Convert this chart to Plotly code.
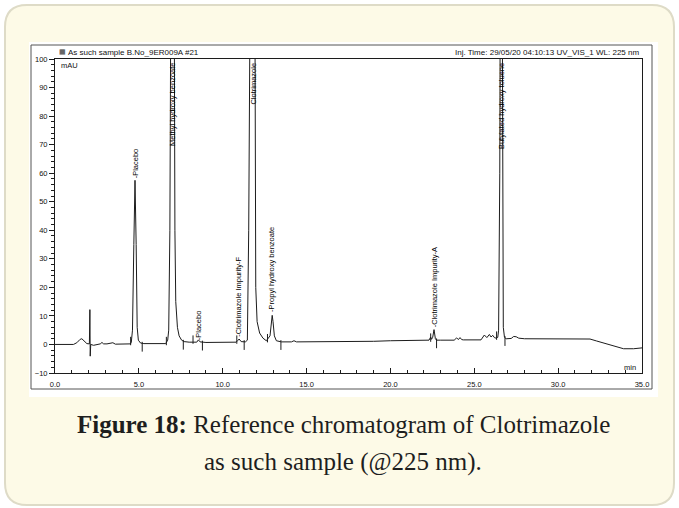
import plotly.graph_objects as go

# ---------------- data ----------------
time_min = [0.0, 1.1, 1.3, 1.5, 1.6, 1.75, 1.9, 2.05, 2.08, 2.10, 2.13, 2.3, 2.5, 2.7, 2.8, 2.9,
            3.1, 3.3, 3.45, 3.6, 4.0, 4.5, 4.55, 4.62, 4.7, 4.77, 4.84, 4.9, 4.97, 5.1, 5.3,
            6.6, 6.72, 6.78, 6.85, 6.89, 7.0, 7.12, 7.15, 7.2, 7.3, 7.4, 7.55, 7.7, 8.0,
            8.45, 8.55, 8.65, 9.0, 10.8, 10.9, 10.98, 11.1, 11.35, 11.47, 11.55, 11.61, 11.75,
            11.93, 11.97, 12.05, 12.2, 12.4, 12.6, 12.82, 12.9, 12.95, 13.0, 13.08, 13.2, 13.5,
            14.1, 14.25, 14.4, 15.0, 17.0, 19.0, 20.0, 21.0, 22.0, 22.3, 22.4, 22.45, 22.52,
            22.6, 22.68, 22.75, 23.0, 23.8, 23.95, 24.05, 24.15, 24.25, 24.35, 25.0, 25.4, 25.6,
            25.75, 25.9, 26.0, 26.1, 26.2, 26.3, 26.4, 26.45, 26.52, 26.6, 26.68, 26.73, 26.8,
            26.9, 27.2, 27.35, 27.5, 27.65, 28.0, 31.9, 32.3, 32.9, 33.4, 33.9, 34.5, 35.0]
signal_mau = [0.0, 0.0, 0.6, 1.8, 2.0, 1.2, 0.3, 0.2, 12.2, -4.1, 0.0, -0.3, 0.0, 0.2, 0.7, 0.2,
              0.2, 0.5, 0.6, 0.1, 0.1, 0.2, 0.8, 5.0, 35.0, 57.5, 35.0, 6.0, 1.5, 0.5, 0.3,
              0.3, 1.5, 5.0, 40.0, 100.0, 170.0, 100.0, 40.0, 15.0, 6.0, 3.0, 1.5, 1.0, 0.8,
              0.8, 1.6, 0.9, 0.7, 0.8, 1.4, 1.9, 1.0, 0.9, 1.5, 40.0, 100.0, 250.0,
              100.0, 20.0, 8.0, 4.0, 2.2, 1.3, 3.0, 9.0, 10.2, 8.0, 3.0, 1.3, 0.9,
              0.9, 1.3, 0.9, 0.9, 1.0, 1.1, 1.3, 1.4, 1.4, 1.5, 2.6, 1.8, 2.5,
              5.2, 2.0, 1.5, 1.5, 1.5, 2.3, 1.7, 2.4, 1.7, 1.6, 1.6, 1.6, 3.3,
              2.4, 3.5, 2.6, 3.2, 2.4, 2.2, 2.5, 5.0, 60.0, 250.0, 60.0, 6.0, 2.5,
              2.0, 2.1, 2.8, 2.7, 2.2, 2.0, 1.9, 1.2, 0.2, -0.9, -1.5, -1.5, -1.2]

# integration delimiters (peak start / peak end)
start_times = [4.51, 6.64, 8.23, 10.84, 12.67, 22.40, 26.33]
start_levels = [0.3, 0.3, 0.8, 0.8, 1.3, 1.5, 2.2]
end_times = [5.20, 7.65, 8.79, 11.28, 13.47, 22.75, 26.83]
end_levels = [0.3, 1.0, 0.7, 0.9, 0.9, 1.5, 2.3]

# peak labels: name, retention time, apex (None = off scale, label hangs from top)
peak_names = ["Placebo", "Methyl hydroxy benzoate", "Placebo", "Clotrimazole Impurity-F",
              "Clotrimazole", "Propyl hydroxy benzoate", "Clotrimazole Impurity-A",
              "Butylated hydroxy toluene"]
peak_times = [4.77, 7.0, 8.55, 10.9, 11.78, 12.95, 22.6, 26.6]
peak_apex = [57.5, None, 0.9, 1.9, None, 10.6, 5.3, None]

x_ticks = [0, 5, 10, 15, 20, 25, 30, 35]
x_ticklabels = ["0.0", "5.0", "10.0", "15.0", "20.0", "25.0", "30.0", "35.0"]
y_ticks = [-10, 0, 10, 20, 30, 40, 50, 60, 70, 80, 90, 100]

header_left = "As such sample B.No_9ER009A #21"
header_right = "Inj. Time: 29/05/20 04:10:13 UV_VIS_1 WL: 225 nm"
caption_bold = "Figure 18:"
caption_rest = " Reference chromatogram of Clotrimazole"
caption_line2 = "as such sample (@225 nm)."

# ---------------- geometry helpers (pixels -> paper) ----------------
W, H = 679, 508
L, R, T, B = 55, 642, 59, 373
PW, PH = R - L, B - T


def px(x):
    return (x - L) / PW


def py(y):
    return (B - y) / PH


def rounded_rect(x0, y0, x1, y1, r):
    pts = [
        f"M {px(x0 + r)} {py(y0)}",
        f"L {px(x1 - r)} {py(y0)}",
        f"Q {px(x1)} {py(y0)} {px(x1)} {py(y0 + r)}",
        f"L {px(x1)} {py(y1 - r)}",
        f"Q {px(x1)} {py(y1)} {px(x1 - r)} {py(y1)}",
        f"L {px(x0 + r)} {py(y1)}",
        f"Q {px(x0)} {py(y1)} {px(x0)} {py(y1 - r)}",
        f"L {px(x0)} {py(y0 + r)}",
        f"Q {px(x0)} {py(y0)} {px(x0 + r)} {py(y0)}",
        "Z",
    ]
    return " ".join(pts)


LINE = "#1c1c1c"
SANS = "Liberation Sans, Arial, sans-serif"
SERIF = "Liberation Serif, Times New Roman, serif"

fig = go.Figure()
fig.add_trace(go.Scatter(x=time_min, y=signal_mau, mode="lines",
                         line=dict(color=LINE, width=1), hoverinfo="skip", showlegend=False))
fig.add_trace(go.Scatter(x=start_times, y=[v + 0.9 for v in start_levels], mode="markers",
                         marker=dict(symbol="line-ns", size=6, line=dict(color=LINE, width=1)),
                         hoverinfo="skip", showlegend=False))
fig.add_trace(go.Scatter(x=end_times, y=[v - 1.1 for v in end_levels], mode="markers",
                         marker=dict(symbol="line-ns", size=7, line=dict(color=LINE, width=1)),
                         hoverinfo="skip", showlegend=False))

shapes = [
    dict(type="path", xref="paper", yref="paper", path=rounded_rect(5, 5, 674, 505, 22),
         fillcolor="#fdfae7", line=dict(color="#dedbc7", width=2), layer="below"),
    dict(type="rect", xref="paper", yref="paper", x0=px(29), x1=px(658), y0=py(42), y1=py(397),
         fillcolor="#ffffff", line=dict(width=0), layer="below"),
    dict(type="rect", xref="paper", yref="paper", x0=px(31), x1=px(652), y0=py(45), y1=py(389),
         fillcolor="rgba(0,0,0,0)", line=dict(color="#555555", width=1), layer="below"),
]

annotations = []
for name, t, apex in zip(peak_names, peak_times, peak_apex):
    if apex is None:
        annotations.append(dict(x=t, y=100, xref="x", yref="y", text=name, textangle=-90,
                                xanchor="center", yanchor="top", yshift=-2, showarrow=False,
                                font=dict(family=SANS, size=7.5, color="#000")))
    else:
        annotations.append(dict(x=t, y=apex, xref="x", yref="y", text="-" + name, textangle=-90,
                                xanchor="center", yanchor="bottom", showarrow=False,
                                font=dict(family=SANS, size=7.5, color="#000")))

annotations += [
    dict(x=px(57), y=py(52.5), xref="paper", yref="paper", text="▦", xanchor="left",
         yanchor="middle", showarrow=False, font=dict(family="DejaVu Sans", size=7, color="#333")),
    dict(x=px(66), y=py(52.5), xref="paper", yref="paper", text=header_left, xanchor="left",
         yanchor="middle", showarrow=False, font=dict(family=SANS, size=8, color="#111")),
    dict(x=px(641), y=py(52.5), xref="paper", yref="paper", text=header_right, xanchor="right",
         yanchor="middle", showarrow=False, font=dict(family=SANS, size=8, color="#111")),
    dict(x=px(59), y=py(65), xref="paper", yref="paper", text="mAU", xanchor="left",
         yanchor="middle", showarrow=False, font=dict(family=SANS, size=7.5, color="#111")),
    dict(x=px(638), y=py(367), xref="paper", yref="paper", text="min", xanchor="right",
         yanchor="middle", showarrow=False, font=dict(family=SANS, size=7.5, color="#111")),
    dict(x=px(343), y=py(424), xref="paper", yref="paper",
         text=f"<b>{caption_bold}</b>{caption_rest}", xanchor="center", yanchor="middle",
         showarrow=False, font=dict(family=SERIF, size=25, color="#1e1e1e")),
    dict(x=px(343), y=py(461.5), xref="paper", yref="paper", text=caption_line2,
         xanchor="center", yanchor="middle", showarrow=False,
         font=dict(family=SERIF, size=25, color="#1e1e1e")),
]

fig.update_layout(
    width=W, height=H, autosize=False,
    margin=dict(l=L, r=W - R, t=T, b=H - B, pad=0),
    paper_bgcolor="#ffffff", plot_bgcolor="rgba(0,0,0,0)",
    shapes=shapes, annotations=annotations, showlegend=False,
)
fig.update_xaxes(range=[0, 35], tickvals=x_ticks, ticktext=x_ticklabels, ticks="inside",
                 ticklen=5, tickwidth=1, tickcolor=LINE, showline=True, linecolor=LINE,
                 linewidth=1, mirror=True, showgrid=False, zeroline=False,
                 ticklabelstandoff=4,
                 tickfont=dict(family=SANS, size=7.5, color="#111"),
                 minor=dict(dtick=1, ticks="inside", ticklen=3, tickcolor=LINE, showgrid=False))
fig.update_yaxes(range=[-10, 100], tickvals=y_ticks, ticks="outside", ticklen=5, tickwidth=1,
                 tickcolor=LINE, showline=True, linecolor=LINE, linewidth=1, mirror=True,
                 showgrid=False, zeroline=False,
                 tickfont=dict(family=SANS, size=7.5, color="#111"),
                 minor=dict(dtick=2, ticks="outside", ticklen=3, tickcolor=LINE, showgrid=False))

fig.write_html("out.html", config={"displayModeBar": False, "staticPlot": True},
               post_script="document.body.style.margin='0';"
                           "document.body.style.overflow='hidden';")
